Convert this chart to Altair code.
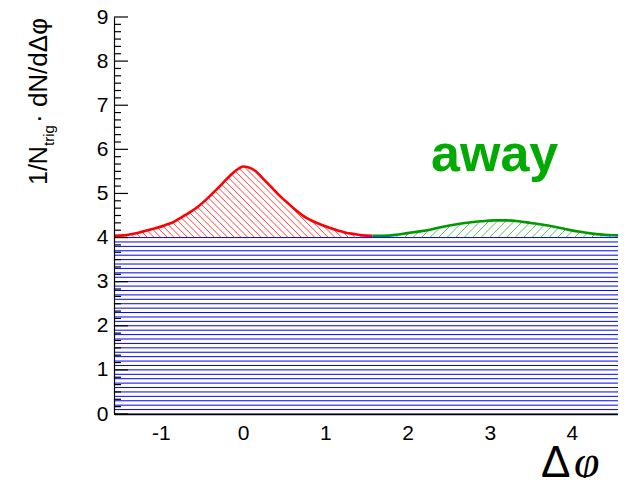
import numpy as np
import pandas as pd
import altair as alt

# ---- data ----
near_x = [-1.5708, -1.45, -1.35, -1.25, -1.15, -1.05, -0.95, -0.85, -0.75, -0.65, -0.55,
          -0.45, -0.35, -0.25, -0.15, -0.05, 0.00, 0.05, 0.15, 0.25, 0.35, 0.45, 0.55,
          0.65, 0.75, 0.85, 0.95, 1.05, 1.15, 1.25, 1.35, 1.45, 1.5708]
near_y = [4.04, 4.05, 4.08, 4.12, 4.17, 4.22, 4.28, 4.35, 4.46, 4.57, 4.70,
          4.86, 5.04, 5.23, 5.42, 5.57, 5.61, 5.60, 5.51, 5.32, 5.13, 4.94, 4.77,
          4.61, 4.47, 4.37, 4.29, 4.22, 4.16, 4.11, 4.08, 4.05, 4.04]
away_x = [1.5708, 1.70, 1.85, 2.00, 2.15, 2.30, 2.45, 2.60, 2.75, 2.90, 3.05, 3.20,
          3.35, 3.50, 3.65, 3.80, 3.95, 4.10, 4.25, 4.40, 4.55, 4.7124]
away_y = [4.04, 4.04, 4.06, 4.10, 4.14, 4.19, 4.25, 4.30, 4.34, 4.37, 4.39, 4.39,
          4.37, 4.33, 4.29, 4.24, 4.18, 4.13, 4.09, 4.06, 4.05, 4.04]
pedestal = 4.0
x_ticks = [-1, 0, 1, 2, 3, 4]
y_ticks = [0, 1, 2, 3, 4, 5, 6, 7, 8, 9]

# visible window of the x axis (the reference is cropped at the right)
XMIN, XMAX = -np.pi / 2, 4.56
YMIN, YMAX = 0, 9
W, H = 504, 397
kx = W / (XMAX - XMIN)
ky = H / (YMAX - YMIN)
s = kx / ky  # data-y change per data-x for a 45 degree line on screen


def hatch(xd, yd, spacing_px, back):
    xd = np.asarray(xd, float)
    yd = np.asarray(yd, float)
    lo, hi = xd.min(), xd.max()
    dx = spacing_px / kx
    reach = (yd.max() - pedestal) / s + 0.02
    starts = np.arange(lo, hi + reach, dx) if back else np.arange(lo - reach, hi, dx)
    t = np.linspace(0, reach, 800)
    rows = []
    for xb in starts:
        xs = xb - t if back else xb + t
        vs = pedestal + s * t
        ok = (xs >= lo) & (xs <= hi) & (vs <= np.interp(xs, xd, yd))
        if not ok.any():
            continue
        i0 = int(np.argmax(ok))
        j = i0
        while j + 1 < len(t) and ok[j + 1]:
            j += 1
        if j == i0:
            continue
        rows.append(dict(x=xs[i0], y=vs[i0], x2=xs[j], y2=vs[j]))
    return pd.DataFrame(rows)


xscale = alt.Scale(domain=[XMIN, XMAX], nice=False, zero=False)
yscale = alt.Scale(domain=[YMIN, YMAX], nice=False)

xaxis = alt.Axis(values=x_ticks, title=None, grid=False, ticks=False,
                 domainColor="black", domainWidth=1.5, labelFontSize=21,
                 labelFont="Liberation Sans", labelColor="black", labelPadding=8,
                 labelFlush=False, labelExpr="'' + datum.value", zindex=1)
yaxis = alt.Axis(values=y_ticks, title=None, grid=False, ticks=False,
                 domainColor="black", domainWidth=1.2, labelFontSize=21,
                 labelFont="Liberation Sans", labelColor="black", labelPadding=6,
                 labelFlush=False, labelExpr="'' + datum.value", zindex=1)

# blue horizontal hatching of the pedestal
blue_levels = pd.DataFrame({"y": np.round(np.arange(0, pedestal + 0.001, 0.1), 2)})
blue = alt.Chart(blue_levels).mark_rule(color="#0000ff", strokeWidth=1).encode(
    y=alt.Y("y:Q", scale=yscale, axis=yaxis),
)

red_h = alt.Chart(hatch(near_x, near_y, 6.7, True)).mark_rule(
    color="#ff0000", strokeWidth=1, opacity=0.75, clip=True).encode(
    x=alt.X("x:Q", scale=xscale, axis=xaxis), x2="x2:Q",
    y=alt.Y("y:Q", scale=yscale), y2="y2:Q")

green_h = alt.Chart(hatch(away_x, away_y, 8.5, False)).mark_rule(
    color="#009900", strokeWidth=1, opacity=0.65, clip=True).encode(
    x=alt.X("x:Q", scale=xscale), x2="x2:Q",
    y=alt.Y("y:Q", scale=yscale), y2="y2:Q")

near = alt.Chart(pd.DataFrame({"x": near_x, "y": near_y})).mark_line(
    color="#ff0000", strokeWidth=2.6, clip=True, interpolate="monotone").encode(
    x=alt.X("x:Q", scale=xscale), y=alt.Y("y:Q", scale=yscale))

away = alt.Chart(pd.DataFrame({"x": away_x, "y": away_y})).mark_line(
    color="#009900", strokeWidth=2.6, clip=True, interpolate="monotone").encode(
    x=alt.X("x:Q", scale=xscale), y=alt.Y("y:Q", scale=yscale))

# inward y ticks (major + minor)
major = pd.DataFrame({"y": y_ticks})
minor_vals = [round(v + k / 6, 4) for v in y_ticks[:-1] for k in range(1, 6)]
minor = pd.DataFrame({"y": minor_vals})
major_t = alt.Chart(major).mark_rule(color="black", strokeWidth=1.2).encode(
    y=alt.Y("y:Q", scale=yscale), x=alt.value(0), x2=alt.value(14))
minor_t = alt.Chart(minor).mark_rule(color="black", strokeWidth=1.2).encode(
    y=alt.Y("y:Q", scale=yscale), x=alt.value(0), x2=alt.value(7))

one = pd.DataFrame({"a": [0]})
away_lbl = alt.Chart(one).mark_text(
    text="away", font="Liberation Sans", fontWeight="bold", fontSize=52,
    color="#00aa00", align="center", baseline="alphabetic").encode(
    x=alt.datum(3.06, scale=xscale), y=alt.datum(5.52, scale=yscale))

t1 = alt.Chart(one).mark_text(text="1/N", angle=270, align="left", baseline="alphabetic",
                              font="Liberation Sans", fontSize=25, color="black").encode(
    x=alt.value(-67), y=alt.value(168))
t2 = alt.Chart(one).mark_text(text="trig", angle=270, align="left", baseline="alphabetic",
                              font="Liberation Sans", fontSize=15, color="black").encode(
    x=alt.value(-60), y=alt.value(129))
t3 = alt.Chart(one).mark_text(text="\u00b7 dN/d\u0394\u03c6", angle=270, align="left",
                              baseline="alphabetic", font="Liberation Sans", fontSize=26,
                              color="black").encode(
    x=alt.value(-67), y=alt.value(106))

d1 = alt.Chart(one).mark_text(text="\u0394", align="left", baseline="alphabetic",
                              font="Liberation Sans", fontSize=44, color="black").encode(
    x=alt.value(427), y=alt.value(460))
d2 = alt.Chart(one).mark_text(text="\u03c6", align="left", baseline="alphabetic",
                              font="Liberation Serif", fontStyle="italic", fontSize=46,
                              color="black").encode(
    x=alt.value(460), y=alt.value(460))

chart = alt.layer(blue, red_h, green_h, near, away, minor_t, major_t, away_lbl,
                  t1, t2, t3, d1, d2).properties(
    width=W, height=H,
    autosize=alt.AutoSizeParams(type="none"),
    padding={"left": 106, "top": 9, "right": 0, "bottom": 64},
    background="white",
).configure_view(stroke=None)

chart.save("out.html", embed_options={"renderer": "svg", "actions": False})
